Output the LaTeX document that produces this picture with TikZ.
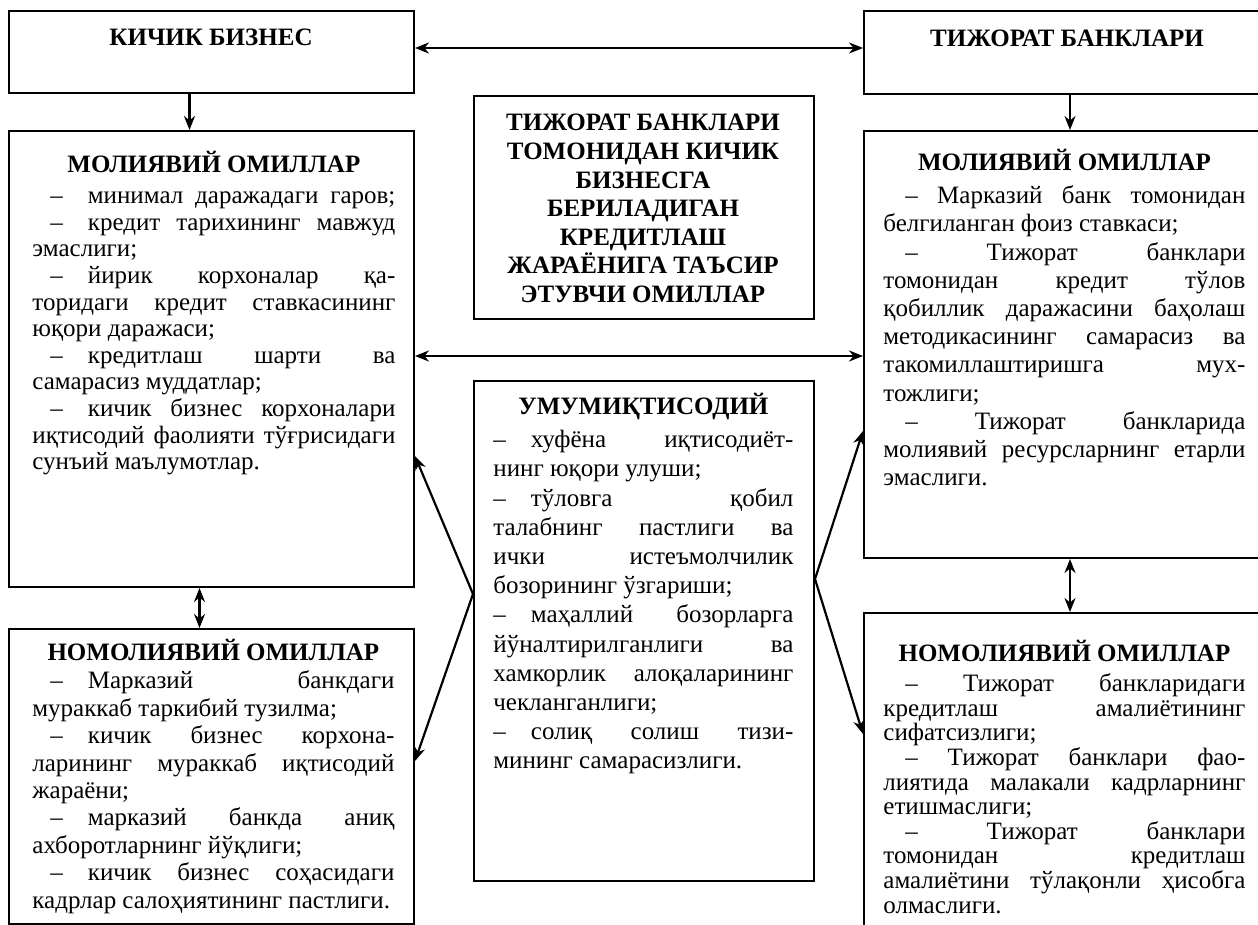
\documentclass[tikz,border=0pt]{standalone}
\usepackage{fontspec}
\setmainfont{Liberation Serif}
\usetikzlibrary{arrows.meta,positioning}

% justified line and list dashes
\newcommand{\jl}[1]{\makebox[\hsize][s]{\spaceskip=0pt\relax\xspaceskip=0pt\relax #1}}
\newcommand{\dashL}{\hspace*{9pt}–\hspace{12.5pt}}
\newcommand{\dashR}{\hspace*{11pt}– }
\newcommand{\dashC}{–\hspace{12.5pt}}

\tikzset{
  box/.style={draw, line width=1pt, inner sep=0pt, anchor=north west},
  txt/.style={inner sep=0pt, anchor=north west, align=justify},
  hdr/.style={inner sep=0pt, anchor=base, font=\fontsize{12.5}{14}\selectfont\bfseries},
  arr/.style={-{Stealth[length=7pt,width=5.5pt]}, line width=1.1pt},
  darr/.style={{Stealth[length=7pt,width=5.5pt]}-{Stealth[length=7pt,width=5.5pt]}, line width=1.1pt},
}

\begin{document}
\begin{tikzpicture}[x=0.5pt, y=-0.5pt]
    \useasboundingbox (0,0) rectangle (1258,925);
    \clip (0,0) rectangle (1258,925);

    % Boxes
    \node[box, minimum width=202.5pt, minimum height=41pt] (kb) at (8,10) {};
    \node[box, minimum width=200pt, minimum height=41.5pt] (tb) at (863,10) {};
    \node[box, minimum width=202.5pt, minimum height=228pt] (lfin) at (8,130) {};
    \node[box, minimum width=200pt, minimum height=213.5pt] (rfin) at (863,130) {};
    \node[box, minimum width=170pt, minimum height=111.5pt] (ctit) at (473,95) {};
    \node[box, minimum width=170pt, minimum height=250pt] (ecn) at (473,380) {};
    \node[box, minimum width=202.5pt, minimum height=147.5pt] (lnon) at (8,628) {};
    \node[box, minimum width=200pt, minimum height=160pt] (rnon) at (863,612) {};

    % Top titles
    \node[hdr] (kbt) at (211,46) {КИЧИК БИЗНЕС};
    \node[hdr] (tbt) at (1067,47) {ТИЖОРАТ БАНКЛАРИ};

    % Centre title
    \node[inner sep=0pt, anchor=north, align=center, font=\fontsize{12.5}{14.3}\selectfont\bfseries] (ctt) at (643,114)
        {ТИЖОРАТ БАНКЛАРИ\\ ТОМОНИДАН КИЧИК\\ БИЗНЕСГА\\ БЕРИЛАДИГАН\\ КРЕДИТЛАШ\\ ЖАРАЁНИГА ТАЪСИР\\ ЭТУВЧИ ОМИЛЛАР};

    % Left financial
    \node[txt, text width=181.5pt, font=\fontsize{12.5}{13.3}\selectfont] (lfint) at (32,151) {%
        \makebox[\hsize][c]{\bfseries МОЛИЯВИЙ ОМИЛЛАР}\\[2.2pt]
        \jl{\dashL минимал даражадаги гаров;}\\
        \jl{\dashL кредит тарихининг мавжуд}\\
        эмаслиги;\\
        \jl{\dashL йирик корхоналар қа-}\\
        \jl{торидаги кредит ставкасининг}\\
        юқори даражаси;\\
        \jl{\dashL кредитлаш шарти ва}\\
        самарасиз муддатлар;\\
        \jl{\dashL кичик бизнес корхоналари}\\
        \jl{иқтисодий фаолияти тўғрисидаги}\\
        сунъий маълумотлар.};

    % Left non-financial
    \node[txt, text width=181pt, font=\fontsize{12.5}{13.7}\selectfont] (lnont) at (32,639) {%
        \makebox[\hsize][c]{\bfseries НОМОЛИЯВИЙ ОМИЛЛАР}\\[0.4pt]
        \jl{\dashL Марказий банкдаги}\\
        мураккаб таркибий тузилма;\\
        \jl{\dashL кичик бизнес корхона-}\\
        \jl{ларининг мураккаб иқтисодий}\\
        жараёни;\\
        \jl{\dashL марказий банкда аниқ}\\
        ахборотларнинг йўқлиги;\\
        \jl{\dashL кичик бизнес соҳасидаги}\\
        кадрлар салоҳиятининг пастлиги.};

    % Centre economic
    \node[txt, text width=150pt, font=\fontsize{12.5}{14.6}\selectfont] (ecnt) at (493,393) {%
        \makebox[\hsize][c]{\bfseries УМУМИҚТИСОДИЙ}\\[1.9pt]
        \jl{\dashC хуфёна иқтисодиёт-}\\
        нинг юқори улуши;\\
        \jl{\dashC тўловга қобил}\\
        \jl{талабнинг пастлиги ва}\\
        \jl{ички истеъмолчилик}\\
        бозорининг ўзгариши;\\
        \jl{\dashC маҳаллий бозорларга}\\
        \jl{йўналтирилганлиги ва}\\
        \jl{хамкорлик алоқаларининг}\\
        чекланганлиги;\\
        \jl{\dashC солиқ солиш тизи-}\\
        мининг самарасизлиги.};

    % Right financial
    \node[txt, text width=181pt, font=\fontsize{12.5}{14.1}\selectfont] (rfint) at (883,149) {%
        \makebox[\hsize][c]{\bfseries МОЛИЯВИЙ ОМИЛЛАР}\\[2.4pt]
        \jl{\dashR Марказий банк томонидан}\\
        белгиланган фоиз ставкаси;\\
        \jl{\dashR Тижорат банклари}\\
        \jl{томонидан кредит тўлов}\\
        \jl{қобиллик даражасини баҳолаш}\\
        \jl{методикасининг самарасиз ва}\\
        \jl{такомиллаштиришга мух-}\\
        тожлиги;\\
        \jl{\dashR Тижорат банкларида}\\
        \jl{молиявий ресурсларнинг етарли}\\
        эмаслиги.};

    % Right non-financial
    \node[txt, text width=181pt, font={\fontsize{12.5}{12.3}\selectfont\lineskiplimit=-20pt}] (rnont) at (883,640) {%
        \makebox[\hsize][c]{\bfseries НОМОЛИЯВИЙ ОМИЛЛАР}\\[2.7pt]
        \jl{\dashR Тижорат банкларидаги}\\
        \jl{кредитлаш амалиётининг}\\
        сифатсизлиги;\\
        \jl{\dashR Тижорат банклари фао-}\\
        \jl{лиятида малакали кадрларнинг}\\
        етишмаслиги;\\
        \jl{\dashR Тижорат банклари}\\
        \jl{томонидан кредитлаш}\\
        \jl{амалиётини тўлақонли ҳисобга}\\
        олмаслиги.};

    % Connectors
    \draw[darr] ([yshift=2pt]kb.east) -- ([yshift=2pt]kb.east -| tb.west);
    \draw[arr] ([xshift=-11pt]kb.south) -- ([xshift=-11pt]lfin.north);
    \draw[arr] ([xshift=3pt]tb.south) -- ([xshift=3pt]rfin.north);
    \draw[darr] ([yshift=1.5pt]lfin.east) -- ([yshift=1.5pt]lfin.east -| rfin.west);
    \draw[darr] ([xshift=-6pt]lfin.south) -- ([xshift=-6pt]lnon.north);
    \draw[darr] ([xshift=3pt]rfin.south) -- ([xshift=3pt]rnon.north);

    \coordinate (jl) at ([yshift=18.5pt]ecn.west);
    \coordinate (jr) at ([yshift=26pt]ecn.east);
    \draw[arr] (jl) -- ([yshift=-48.5pt]lfin.east);
    \draw[arr] (jl) -- ([yshift=7.75pt]lnon.east);
    \draw[arr] (jr) -- ([yshift=-43.25pt]rfin.west);
    \draw[arr] (jr) -- ([yshift=19.5pt]rnon.west);
\end{tikzpicture}
\end{document}
